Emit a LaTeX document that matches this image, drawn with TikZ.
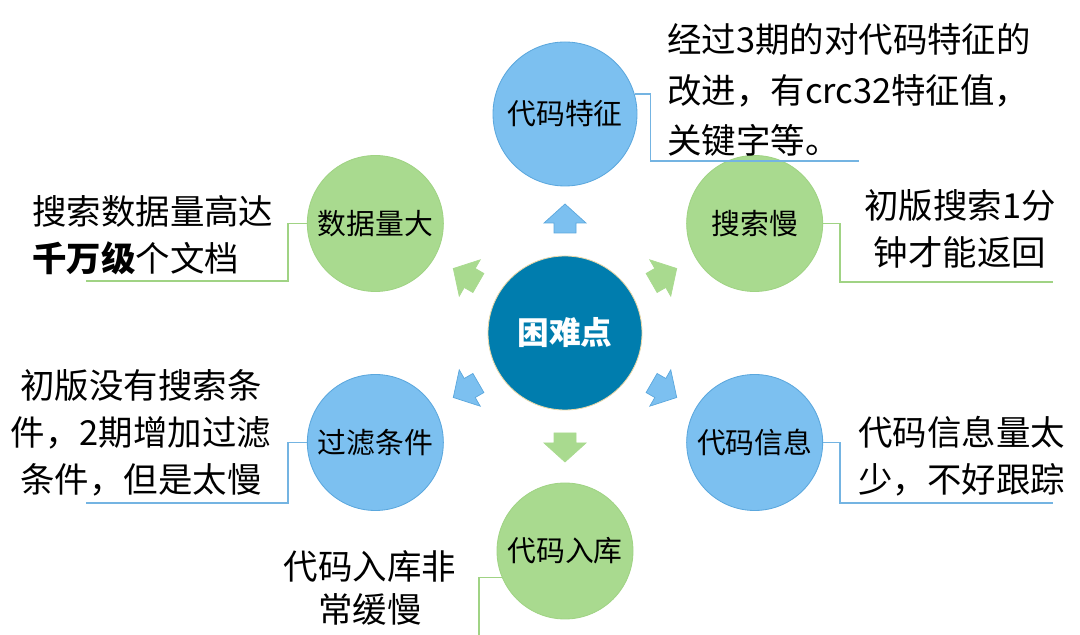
\documentclass[tikz,border=0pt]{standalone}
\usepackage{fontspec}
\newfontfamily\cjk{Noto Sans CJK SC}
\usetikzlibrary{calc}

\definecolor{skyfill}{HTML}{7CC0F0}
\definecolor{skyedge}{HTML}{5BA7DD}
\definecolor{leaffill}{HTML}{A9DA8F}
\definecolor{leafedge}{HTML}{A0D384}
\definecolor{hubfill}{HTML}{007DAE}
\definecolor{hubedge}{HTML}{EBD8A8}

\begin{document}
\begin{tikzpicture}[
  x=0.25mm, y=0.25mm,
  font=\cjk,
  bubble/.style={circle, inner sep=0pt, minimum size=34mm, line width=0.6pt,
                 font=\cjk\fontsize{20.5}{24}\selectfont},
  sky/.style={bubble, fill=skyfill, draw=skyedge},
  leaf/.style={bubble, fill=leaffill, draw=leafedge},
  hubstyle/.style={circle, inner sep=0pt, minimum size=38.5mm, fill=hubfill,
                   draw=hubedge, line width=0.6pt, text=white,
                   font=\cjk\fontsize{22.5}{26}\selectfont\bfseries},
  note/.style={inner sep=0pt, font=\cjk\fontsize{24.5}{33.5}\selectfont},
  skylink/.style={draw=skyedge!85, line width=0.9pt},
  leaflink/.style={draw=leafedge, line width=0.9pt},
  pointer/.style={line width=0.5pt, line join=miter},
]
  \useasboundingbox (0,0) rectangle (1080,635);

  % --- hub and the six topics ---
  \node[hubstyle] (hub) at (565,302) {困难点};
  \node[sky, minimum size=36mm] (feat) at ($(hub)+(90:219)$) {代码特征};
  \node[leaf] (slow)  at ($(hub)+(30:219)$)   {搜索慢};
  \node[sky]  (info)  at ($(hub)+(-30:219)$)  {代码信息};
  \node[leaf] (store) at ($(hub)+(-90:218)$)  {代码入库};
  \node[sky]  (filt)  at ($(hub)+(-150:219)$) {过滤条件};
  \node[leaf] (data)  at ($(hub)+(150:219)$)  {数据量大};

  % --- block arrows out of the hub ---
  \foreach \ang/\fillcol/\edgecol in {90/skyfill/skyedge, 30/leaffill/leaffill,
      -30/skyfill/skyedge, -90/leaffill/leaffill, -150/skyfill/skyedge,
      150/leaffill/leaffill} {
    \begin{scope}[shift={(hub)}, rotate=\ang]
      \filldraw[pointer, fill=\fillcol, draw=\edgecol]
        (100,-11) -- (110,-11) -- (110,-21) -- (129,0) -- (110,21)
        -- (110,11) -- (100,11) -- cycle;
    \end{scope}
  }

  % --- notes ---
  \node[note, anchor=west, align=left, font=\cjk\fontsize{24.5}{36}\selectfont]
    (featnote) at (667,545) {经过3期的对代码特征的\\改进，有crc32特征值，\\关键字等。};
  \node[note, anchor=west, align=left] (datanote) at (32,400)
    {搜索数据量高达\\{\bfseries 千万级}个文档};
  \node[note, align=center] (slownote) at (960,406) {初版搜索1分\\钟才能返回};
  \node[note, align=center] (filtnote) at (141,202)
    {初版没有搜索条\\件，2期增加过滤\\条件，但是太慢};
  \node[note, anchor=west, align=left] (infonote) at (858,179)
    {代码信息量太\\少，不好跟踪};
  \node[note, align=center, font=\cjk\fontsize{24.5}{31}\selectfont]
    (storenote) at (370,47) {代码入库非\\常缓慢};

  % --- callout lines ---
  \coordinate (featend)  at (859,474);
  \coordinate (dataend)  at (86,354);
  \coordinate (slowend)  at (1053,353);
  \coordinate (filtend)  at (86,132);
  \coordinate (infoend)  at (1053,132);
  \coordinate (storeend) at (479,0);
  \draw[skylink]  (feat.16) -- ++(16,0) |- (featend);
  \draw[leaflink] (data.west) -- ++(-19,0) |- (dataend);
  \draw[leaflink] (slow.east) -- ++(17,0) |- (slowend);
  \draw[skylink]  (filt.west) -- ++(-19,0) |- (filtend);
  \draw[skylink]  (info.east) -- ++(17,0) |- (infoend);
  \draw[leaflink] (store.203) -| (storeend);
\end{tikzpicture}
\end{document}
